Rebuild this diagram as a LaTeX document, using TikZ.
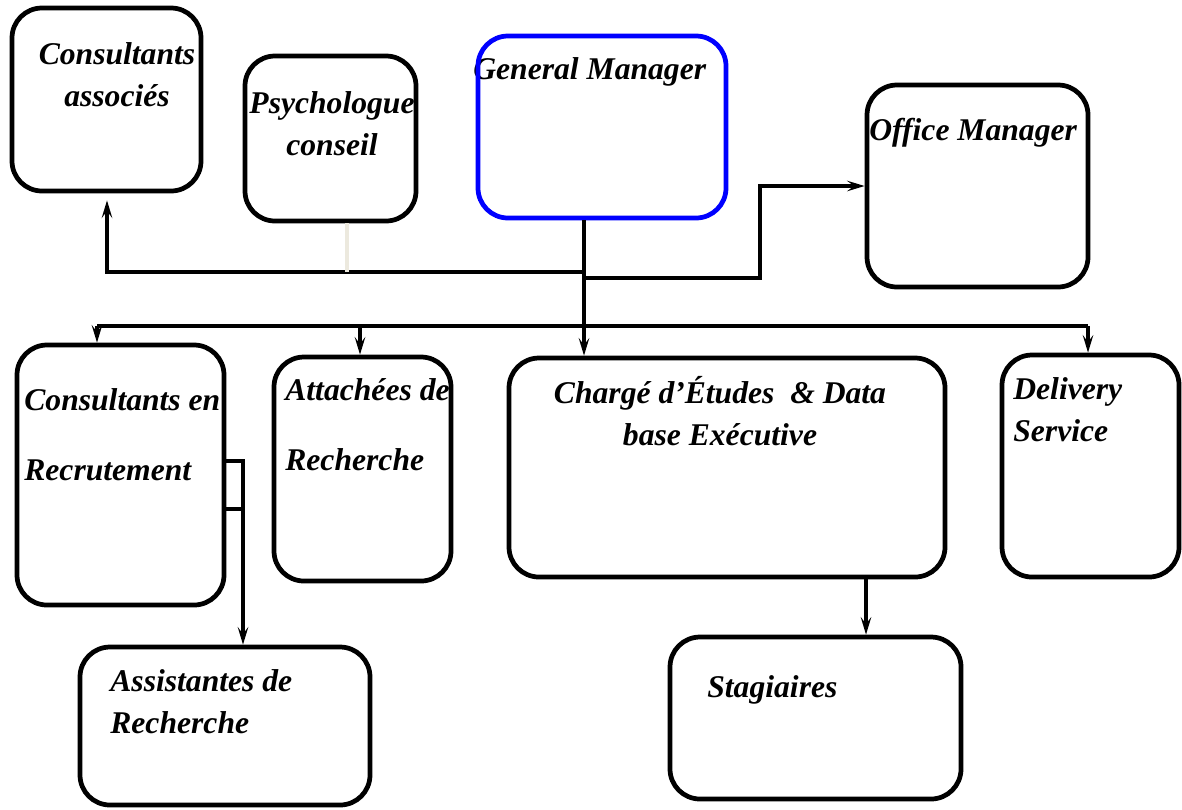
\documentclass[tikz,border=0pt]{standalone}
\usepackage{fontspec}
\setmainfont{Liberation Serif}
\usetikzlibrary{arrows.meta,fit}
\definecolor{paleline}{RGB}{236,233,222}

\begin{document}
\begin{tikzpicture}[x=0.02cm,y=-0.02cm,
    box/.style={draw,line width=2.7pt,rounded corners=0.6cm,inner sep=0pt},
    lbl/.style={font=\fontsize{18}{23.8}\selectfont\bfseries\itshape,inner sep=0pt},
    conn/.style={line width=1.9pt},
    arr/.style={conn,-{Stealth[length=10pt,width=6pt,inset=4pt]}}]
  \useasboundingbox (0,0) rectangle (1182,809);
  % labels (base = last line)
  \node[lbl,align=center,anchor=base] (assoc_t)  at (117,106)  {Consultants\\associés};
  \node[lbl,align=center,anchor=base] (psych_t)  at (332,155)  {Psychologue\\conseil};
  \node[lbl,anchor=base west]         (gm_t)     at (473,79)   {General Manager};
  \node[lbl,anchor=base west]         (office_t) at (869,140)  {Office Manager};
  \node[lbl,align=left,anchor=base west] (recrut_t) at (24,480) {Consultants en\\[16pt]Recrutement};
  \node[lbl,align=left,anchor=base west] (attach_t) at (285,470) {Attachées de\\[16pt]Recherche};
  \node[lbl,align=center,anchor=base] (charge_t) at (720,445)  {Chargé d’Études~~\& Data\\base Exécutive};
  \node[lbl,align=left,anchor=base west] (deliv_t)  at (1013,441) {Delivery\\Service};
  \node[lbl,align=left,anchor=base west] (assist_t) at (110,733) {Assistantes de\\Recherche};
  \node[lbl,anchor=base west]         (stag_t)   at (707,697)  {Stagiaires};
  % boxes
  \node[box,fit={(12,8) (201,191)}]             (assoc)  {};
  \node[box,fit={(245,56) (416,221)}]           (psych)  {};
  \node[box,draw=blue,fit={(478,36) (726,218)}] (gm)     {};
  \node[box,fit={(867,85) (1088,287)}]          (office) {};
  \node[box,fit={(17,345) (224,605)}]           (recrut) {};
  \node[box,fit={(274,357) (451,581)}]          (attach) {};
  \node[box,fit={(509,358) (945,577)}]          (charge) {};
  \node[box,fit={(1002,355) (1179,577)}]        (deliv)  {};
  \node[box,fit={(80,647) (370,805)}]           (assist) {};
  \node[box,fit={(670,637) (961,799)}]          (stag)   {};
  % junctions
  \coordinate (hub)       at (584,272);
  \coordinate (hubr)      at (584,278);
  \coordinate (assocfoot) at (107,272);
  \coordinate (psychfoot) at (347,272);
  \coordinate (omturn)    at (760,278);
  \coordinate (dr)        at (97,326);
  \coordinate (da)        at (360,326);
  \coordinate (dd)        at (1088,326);
  \coordinate (rtop)      at (243,461);
  \coordinate (rbot)      at (243,509);
  \coordinate (cs)        at (866,578);
  % top part
  \draw[arr] (gm.south -| hub) -- (charge.north -| hub);
  \draw[arr,shorten >=4pt] (hub) -- (assocfoot) -- (assoc.south -| assocfoot);
  \draw[arr] (hubr) -- (omturn) -- (omturn |- office.west) -- (office.west);
  \draw[line width=1.9pt,paleline] (psych.south -| psychfoot) -- (psychfoot);
  % bus
  \draw[conn] (dr) -- (dd);
  \foreach \c/\t in {dr/recrut,da/attach,dd/deliv}
    \draw[arr] (\c) -- (\c |- \t.north);
  % lower part
  \draw[conn] (recrut.east |- rbot) -- (rbot);
  \draw[arr] (recrut.east |- rtop) -- (rtop) -- (rtop |- assist.north);
  \draw[arr] (cs) -- (cs |- stag.north);
\end{tikzpicture}
\end{document}
